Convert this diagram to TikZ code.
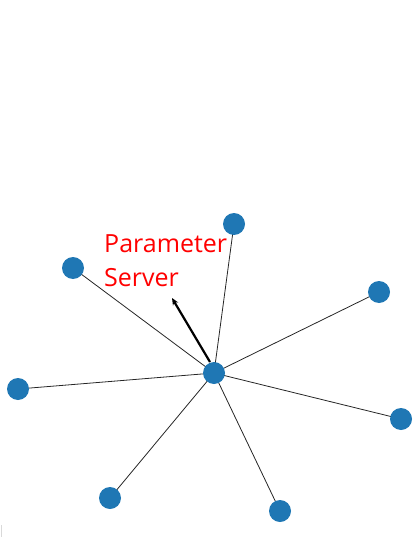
\documentclass[tikz,border=0pt]{standalone}
\usepackage{fontspec}
\setmainfont{Open Sans}
\usetikzlibrary{arrows.meta}
\definecolor{nodeblue}{HTML}{1F77B4}
\begin{document}
\begin{tikzpicture}[x=1pt,y=-1pt,
  dot/.style={circle,fill=nodeblue,minimum size=22pt,inner sep=0pt},
  edge/.style={draw=black!85,line width=0.8pt},
  ps/.style={text=red,font=\fontsize{25}{34}\selectfont,align=left,anchor=base west,inner sep=0pt}]
\useasboundingbox (0,0) rectangle (415,537);
\draw[black!15,line width=1pt] (1,525) -- (1,537);
\coordinate (c0) at (214,373);
\foreach \n/\x/\y in {a/234/224,b/73/268,c/379/292,d/18/389,e/401/419,f/110/498,g/280/511}{
  \draw[edge] (c0) -- (\x,\y);
}
\foreach \n/\x/\y in {a/234/224,b/73/268,c/379/292,d/18/389,e/401/419,f/110/498,g/280/511}{
  \node[dot] (\n) at (\x,\y) {};
}
\node[dot] (center) at (c0) {};
\coordinate (tip) at (172,298);
\draw[line width=2.2pt,-{Stealth[length=7pt,width=6pt]}] (210,362) -- (tip);
\node[ps] (label) at (104,286) {Parameter\\Server};
\end{tikzpicture}
\end{document}
